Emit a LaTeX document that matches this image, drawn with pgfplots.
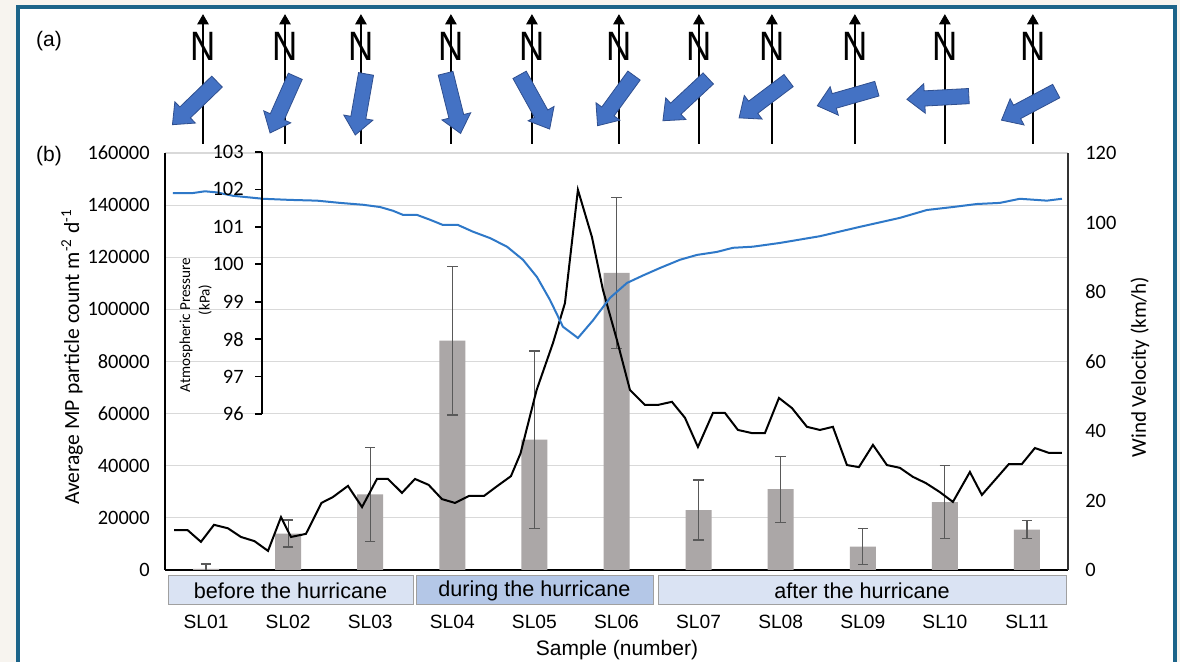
\documentclass[border=0pt]{standalone}
\usepackage{fontspec}
\setmainfont{Liberation Sans}
\newfontfamily\carlito{Carlito}
\usepackage{pgfplots}
\usepackage{pgfplotstable}
\pgfplotsset{compat=1.18}
\usetikzlibrary{arrows.meta,shapes.arrows}

\definecolor{barfill}{HTML}{ABA7A7}
\definecolor{errc}{HTML}{595959}
\definecolor{pblue}{HTML}{2E78C8}
\definecolor{gridc}{HTML}{D9D9D9}
\definecolor{boxlight}{HTML}{DAE3F3}
\definecolor{boxmid}{HTML}{B4C7E7}
\definecolor{boxedge}{HTML}{A0A0A0}
\definecolor{framec}{HTML}{1C6489}
\definecolor{bgc}{HTML}{F7F4EF}
\definecolor{arrowblue}{HTML}{4472C4}
\definecolor{arrowedge}{HTML}{2F4F8F}

% MP particle count per sample
\pgfplotstableread{
x y err
1 400 1900
2 14000 5200
3 29000 18000
4 88000 28500
5 50000 34000
6 114000 29000
7 23000 11500
8 31000 12700
9 9000 7000
10 26000 14000
11 15500 3500
}\mpdata

% wind direction per sample (compass position, arrow centre, angle)
\pgfplotstableread{
xn xa ya ang
0.963 0.902 100 224
1.962 1.956 100.5 246
2.887 2.893 100 260
3.983 3.996 99 284
4.970 4.976 98 299
6.030 6.024 97 234
7.004 6.882 96.5 223
7.893 7.839 96.5 217
8.904 8.862 96 196
10.000 9.970 97.5 183
11.072 11.072 103.5 208
}\winddir

\pgfplotstableread{
x v
0.610 11.5
0.774 11.5
0.938 8.1
1.097 13.0
1.267 12.0
1.426 9.5
1.590 8.3
1.755 5.5
1.913 15.2
2.035 9.5
2.217 10.4
2.406 19.3
2.546 21.0
2.729 24.2
2.900 18.1
3.082 26.2
3.216 26.2
3.387 22.2
3.545 26.2
3.711 24.5
3.874 20.4
4.032 19.3
4.203 21.3
4.386 21.3
4.550 24.2
4.714 27.0
4.830 33.5
5.027 51.8
5.226 65.3
5.372 76.8
5.530 109.4
5.701 95.8
5.835 80.6
6.005 66.2
6.164 51.8
6.347 47.5
6.505 47.5
6.675 48.4
6.834 43.8
6.992 35.4
7.175 45.2
7.321 45.2
7.479 40.3
7.650 39.4
7.808 39.4
7.979 49.5
8.137 46.6
8.320 41.2
8.478 40.3
8.636 41.2
8.807 30.2
8.953 29.6
9.124 36.0
9.294 30.2
9.452 29.4
9.611 26.8
9.769 25.0
9.940 22.4
10.098 19.6
10.305 28.2
10.451 21.6
10.610 25.9
10.780 30.5
10.938 30.5
11.097 35.1
11.267 33.7
11.426 33.7
}\wind

\pgfplotstableread{
x p
0.597 101.90
0.829 101.90
0.987 101.95
1.133 101.92
1.328 101.83
1.694 101.75
2.023 101.72
2.351 101.70
2.632 101.64
2.912 101.59
3.119 101.53
3.277 101.43
3.399 101.32
3.569 101.32
3.728 101.19
3.886 101.05
4.069 101.05
4.252 100.87
4.459 100.70
4.666 100.47
4.861 100.12
5.031 99.66
5.189 99.05
5.348 98.33
5.530 98.03
5.713 98.50
5.920 99.10
6.127 99.50
6.322 99.70
6.529 99.90
6.773 100.12
6.980 100.25
7.223 100.33
7.418 100.44
7.662 100.47
7.991 100.57
8.478 100.75
8.965 101.00
9.453 101.24
9.781 101.45
10.098 101.53
10.390 101.61
10.670 101.64
10.914 101.75
11.243 101.70
11.426 101.75
}\pressure

\begin{document}
\begin{tikzpicture}
\path[use as bounding box, fill=bgc] (0,0) rectangle (590pt,-331pt);
\fill[white] (9pt,-3.5pt) rectangle (587.5pt,-331pt);
\draw[framec, line width=1.6pt] (9pt,-332pt) -- (9pt,-3.5pt) -- (587.5pt,-3.5pt) -- (587.5pt,-332pt);

\pgfplotsset{
  every axis/.append style={
    /pgf/number format/assume math mode=true,
    tick label style={font=\carlito\fontsize{10.2}{12}\selectfont},
  },
}

% (b) main axis: MP particle counts
\begin{axis}[
  at={(82.5pt,-76.5pt)}, anchor=north west, scale only axis,
  width=451.5pt, height=208.5pt,
  xmin=0.5, xmax=11.5, ymin=0, ymax=160000,
  axis x line*=bottom, axis y line*=left,
  axis line style={black, line width=1pt},
  ymajorgrids, grid style={gridc, line width=0.6pt},
  ytick={0,20000,...,160000}, scaled y ticks=false,
  yticklabel style={/pgf/number format/fixed, /pgf/number format/1000 sep={},
    anchor=east, inner sep=0pt, xshift=-7.5pt},
  xtick={1,...,11},
  xticklabels={SL01,SL02,SL03,SL04,SL05,SL06,SL07,SL08,SL09,SL10,SL11},
  xticklabel style={font=\fontsize{9.6}{11}\selectfont, anchor=center, yshift=-26pt},
  major tick length=0pt,
]
\addplot[ybar, bar width=13pt, fill=barfill, draw=none,
  error bars/.cd, y dir=both, y explicit,
  error bar style={errc, line width=0.6pt},
  error mark options={errc, rotate=90, mark size=2.6pt, line width=0.6pt}]
  table[x=x, y=y, y error=err] {\mpdata};
\end{axis}

% wind velocity, right axis
\begin{axis}[
  at={(82.5pt,-76.5pt)}, anchor=north west, scale only axis,
  width=451.5pt, height=208.5pt,
  xmin=0.5, xmax=11.5, ymin=0, ymax=120,
  axis x line=none, axis y line*=right,
  axis line style={black!80, line width=1pt},
  ytick={0,20,...,120}, major tick length=0pt,
  yticklabel style={anchor=west, inner sep=0pt, xshift=8.5pt},
]
\addplot[black, line width=1pt] table[x=x, y=v] {\wind};
\end{axis}

% atmospheric pressure line (inset scale)
\begin{axis}[
  at={(82.5pt,-76pt)}, anchor=north west, scale only axis,
  width=451.5pt, height=131pt,
  xmin=0.5, xmax=11.5, ymin=96, ymax=103, hide axis,
]
\addplot[pblue, line width=1pt] table[x=x, y=p] {\pressure};
\end{axis}

% atmospheric pressure scale
\begin{axis}[
  at={(131pt,-76pt)}, anchor=north west, scale only axis,
  width=30pt, height=131pt,
  xmin=0, xmax=1, ymin=96, ymax=103,
  axis x line=none, axis y line*=left,
  axis line style={black, line width=0.9pt},
  ytick={96,...,103}, tick align=outside, major tick length=3.5pt,
  tick style={black, line width=0.9pt},
  yticklabel style={anchor=east, inner sep=0pt, xshift=-5.5pt},
]
\end{axis}

% (a) wind direction panel
\begin{axis}[
  at={(82.5pt,0pt)}, anchor=north west, scale only axis,
  width=451.5pt, height=75pt,
  xmin=0.5, xmax=11.5, ymin=0, ymax=150, y dir=reverse,
  hide axis, clip=false,
]
% north needles
\addplot[draw=none, mark=none,
  error bars/.cd, y dir=both, y fixed=63, error mark=none,
  error bar style={draw=black, line width=0.75pt}]
  table[x=xn, y expr=81] {\winddir};
\addplot[only marks, mark=triangle*, mark size=3pt, black]
  table[x=xn, y expr=21] {\winddir};
\addplot[draw=none, mark=none, nodes near coords={N}, nodes near coords align={anchor=center},
  every node near coord/.append style={anchor=center, inner sep=0pt, xscale=0.85,
    font=\fontsize{20.5}{20}\selectfont, text=black}]
  table[x=xn, y expr=46] {\winddir};
% wind direction arrows, angle carried as point meta
\addplot[draw=none, mark=none, point meta=explicit symbolic,
  nodes near coords={}, nodes near coords align={anchor=center},
  every node near coord/.append style={anchor=center, single arrow, draw=arrowedge,
    fill=arrowblue, line width=0.4pt, rotate=\pgfplotspointmeta, minimum height=31pt,
    inner xsep=0pt, inner ysep=3.6pt, single arrow head extend=3.6pt,
    single arrow tip angle=80}]
  table[x=xa, y=ya, meta=ang] {\winddir};
\end{axis}

% period boxes
\begin{scope}[font=\fontsize{10.8}{12}\selectfont]
\draw[boxedge, fill=boxlight, line width=0.5pt] (84pt,-288pt) rectangle (206.5pt,-302.5pt);
\draw[boxedge, fill=boxmid, line width=0.5pt] (208pt,-288pt) rectangle (326.5pt,-302.5pt);
\draw[boxedge, fill=boxlight, line width=0.5pt] (329pt,-288pt) rectangle (533pt,-302.5pt);
\node at (145.25pt,-295.25pt) {before the hurricane};
\node at (267.25pt,-295.25pt) {during the hurricane};
\node at (431pt,-295.25pt) {after the hurricane};
\end{scope}

% labels
\node[font=\fontsize{10.5}{12}\selectfont] at (24.5pt,-20.5pt) {(a)};
\node[font=\fontsize{10.5}{12}\selectfont] at (24.5pt,-78pt) {(b)};
\node[font=\fontsize{10.5}{12}\selectfont] at (308.5pt,-325pt) {Sample (number)};
\node[rotate=90, font=\carlito\fontsize{10.8}{12}\selectfont] at (36pt,-178.5pt)
  {Average MP particle count m\textsuperscript{-2} d\textsuperscript{-1}};
\node[rotate=90, font=\carlito\fontsize{10.5}{12}\selectfont] at (570pt,-183.5pt)
  {Wind Velocity (km/h)};
\node[rotate=90, font=\carlito\fontsize{7.6}{9}\selectfont] at (93pt,-162.5pt)
  {Atmospheric Pressure};
\node[rotate=90, font=\carlito\fontsize{7.6}{9}\selectfont] at (102.5pt,-150pt)
  {(kPa)};
\end{tikzpicture}
\end{document}
